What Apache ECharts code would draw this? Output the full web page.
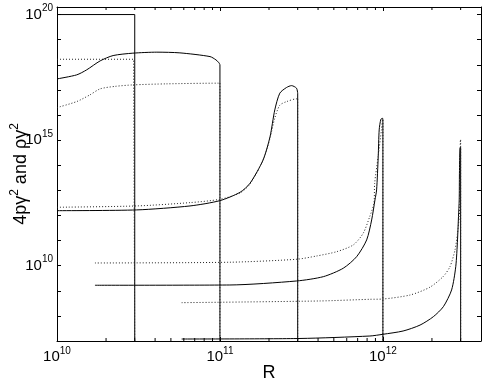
<!DOCTYPE html>
<html>
<head>
<meta charset="utf-8">
<script src="https://cdn.jsdelivr.net/npm/echarts@6/dist/echarts.min.js"></script>
<style>
  html, body { margin: 0; padding: 0; background: #fff; }
  #main { width: 485px; height: 385px; }
</style>
</head>
<body>
<div id="main"></div>
<script>
// axis range
const xMin = 1e10, xMax = 4e12
const yMin = 1e7, yMax = 2e20
// minor ticks on the R axis (2..9 per decade)
const minorX = [2e10, 3e10, 4e10, 5e10, 6e10, 7e10, 8e10, 9e10,
  2e11, 3e11, 4e11, 5e11, 6e11, 7e11, 8e11, 9e11, 2e12, 3e12]

// curves, [R, value]; last point of each is the drop to the bottom
const top1 = [[1e10, 1e20], [3e10, 1e20], [3e10, 1e7]]
const flatDot1 = [[1e10, 1.66e18], [2.95e10, 1.66e18], [3e10, 1e7]]
const solid1 = [[1e10, 2.74e17], [1.32e10, 3.96e17], [1.52e10, 6.27e17], [1.84e10, 1.43e18], [2.21e10, 2.33e18],
  [2.92e10, 2.9e18], [4.1e10, 3.18e18], [5.68e10, 2.98e18], [8.69e10, 2.12e18], [9.45e10, 1.57e18],
  [9.86e10, 1.2e18], [1e11, 1e18], [1e11, 1e7]]
const dot1 = [[1e10, 1.97e16], [1.32e10, 3.42e16], [1.59e10, 6.3e16], [1.84e10, 1.1e17], [2.27e10, 1.38e17],
  [2.92e10, 1.58e17], [4.7e10, 1.74e17], [9.7e10, 1.85e17], [1e11, 1.85e17], [1e11, 1e7]]
const solid2 = [[1e10, 1.55e12], [3.08e10, 1.66e12], [6.55e10, 2.39e12], [1e11, 3.89e12], [1.33e11, 8.4e12],
  [1.53e11, 1.92e13], [1.84e11, 1.62e14], [2.03e11, 1.38e15], [2.17e11, 1.59e16], [2.33e11, 7.4e16],
  [2.56e11, 1.24e17], [2.75e11, 1.48e17], [2.95e11, 1.17e17], [3e11, 7.4e16], [3e11, 1e7]]
const dot2 = [[1e10, 2.12e12], [3.08e10, 2.39e12], [6.55e10, 3.24e12], [1e11, 4.4e12], [1.33e11, 7.9e12],
  [1.53e11, 1.8e13], [1.84e11, 1.62e14], [2.03e11, 1.23e15], [2.17e11, 7.6e15], [2.33e11, 2.46e16],
  [2.56e11, 3.4e16], [2.95e11, 4.4e16], [3e11, 4.4e16], [3e11, 1e7]]
const solid3 = [[1.71e10, 1.66e9], [1.15e11, 1.7e9], [2.96e11, 2.46e9], [4.31e11, 3.65e9], [5.71e11, 7.9e9],
  [6.9e11, 2.28e10], [7.95e11, 1.06e11], [8.53e11, 6.6e11], [8.94e11, 4.15e12], [9.15e11, 1.04e13],
  [9.36e11, 2.19e14], [9.49e11, 2.56e15], [9.72e11, 6.8e15], [9.96e11, 7.4e15], [1e12, 5.5e15], [1e12, 1e7]]
const dot3 = [[1.71e10, 1.28e10], [1.15e11, 1.37e10], [2.96e11, 1.8e10], [3.92e11, 2.43e10], [5.2e11, 3.6e10],
  [6.58e11, 6.7e10], [7.57e11, 1.95e11], [8.3e11, 8.95e11], [8.81e11, 3.06e12], [8.9e11, 1.9e13],
  [9.35e11, 2.2e14], [9.8e11, 2.6e15], [9.96e11, 6.3e15], [1e12, 6.3e15], [1e12, 1e7]]
const solid4 = [[5.82e10, 1.2e7], [3.1e11, 1.26e7], [8.32e11, 1.58e7], [1e12, 1.85e7], [1.33e12, 2.5e7],
  [1.69e12, 4.3e7], [2.04e12, 9.3e7], [2.35e12, 2.33e8], [2.64e12, 1.08e9], [2.8e12, 9.1e9],
  [2.87e12, 1.06e11], [2.91e12, 8.95e11], [2.94e12, 4.15e12], [2.95e12, 4.8e13], [2.97e12, 4.75e14],
  [3e12, 5.2e14], [3e12, 1e7]]
const dot4 = [[5.82e10, 3.36e8], [4.1e11, 3.93e8], [8.32e11, 4.58e8], [1e12, 4.7e8], [1.47e12, 6.8e8],
  [1.94e12, 1.38e9], [2.34e12, 3.65e9], [2.58e12, 9.1e9], [2.77e12, 4.2e10], [2.87e12, 1.95e11],
  [2.94e12, 8.95e11], [2.97e12, 4.15e12], [2.98e12, 2.2e14], [2.99e12, 1.02e15], [3e12, 1.02e15], [3e12, 1e7]]

const solidCurves = [solid1, solid2, solid3, solid4]
const dottedCurves = [dot1, dot2, dot3, dot4]

const FONT = 'Liberation Sans, Arial, Helvetica, sans-serif'
const supRich = {
  b: { fontSize: 15, lineHeight: 22, fontFamily: FONT, color: '#000' },
  s: { fontSize: 10, lineHeight: 10, verticalAlign: 'top', fontFamily: FONT, color: '#000' }
}
function powLabel(v) {
  let e = Math.round(Math.log10(v))
  return '{b|10}{s|' + e + '}'
}

const chart = echarts.init(document.getElementById('main'), null, { renderer: 'canvas' })

let axisBase = {
  type: 'log',
  logBase: 10,
  axisLine: { show: true, onZero: false, lineStyle: { color: '#000', width: 1 } },
  axisTick: { show: true, inside: true, length: 4, lineStyle: { color: '#000' } },
  splitLine: { show: false },
  minorTick: { show: false },
  interval: 1
}

const solidStyle = { color: '#000', width: 1, type: 'solid' }
const dotStyle = { color: '#222', width: 1, type: [1, 2] }

function lineSeries(d, style, smooth) {
  return {
    type: 'line', data: d, showSymbol: false, symbol: 'none', silent: true,
    smooth: smooth, lineStyle: style
  }
}

let series = []
series.push(lineSeries(top1, solidStyle, false))
series.push(lineSeries(flatDot1, dotStyle, false))
solidCurves.forEach(d => {
  series.push(lineSeries(d.slice(0, -1), solidStyle, 0.25))
  series.push(lineSeries(d.slice(-2), solidStyle, false))
})
dottedCurves.forEach(d => {
  series.push(lineSeries(d.slice(0, -1), dotStyle, 0.25))
  series.push(lineSeries(d.slice(-2), dotStyle, false))
})
// minor ticks on bottom and top edges
series.push({
  type: 'custom',
  silent: true,
  clip: false,
  data: minorX.map(v => [v, yMin]),
  renderItem: function (params, api) {
    let p = api.coord([api.value(0), api.value(1)])
    let cs = params.coordSys
    let top = cs.y, bottom = cs.y + cs.height
    let st = { stroke: '#000', lineWidth: 1 }
    return {
      type: 'group',
      children: [
        { type: 'line', shape: { x1: p[0], y1: bottom, x2: p[0], y2: bottom - 3 }, style: st },
        { type: 'line', shape: { x1: p[0], y1: top, x2: p[0], y2: top + 3 }, style: st }
      ]
    }
  }
})

let option = {
  animation: false,
  backgroundColor: '#fff',
  grid: { left: 57, right: 4, top: 7, bottom: 44, containLabel: false, outerBoundsMode: 'none' },
  xAxis: [
    Object.assign({}, axisBase, {
      position: 'bottom', min: xMin, max: xMax,
      name: 'R', nameLocation: 'middle', nameGap: 23, nameMoveOverlap: false,
      nameTextStyle: { fontSize: 18, fontFamily: FONT, color: '#000' },
      axisLabel: { show: true, margin: 5, showMaxLabel: false, formatter: powLabel, rich: supRich }
    }),
    Object.assign({}, axisBase, {
      position: 'top', min: xMin, max: xMax,
      axisLabel: { show: false }
    })
  ],
  yAxis: [
    Object.assign({}, axisBase, {
      position: 'left', min: yMin, max: yMax,
      name: '{n|4pγ}{s|2}{n| and ργ}{s|2}', nameLocation: 'middle', nameGap: 24, nameMoveOverlap: false,
      nameTextStyle: {
        rich: {
          n: { fontSize: 18, lineHeight: 24, fontFamily: FONT, color: '#000' },
          s: { fontSize: 12, lineHeight: 12, verticalAlign: 'top', fontFamily: FONT, color: '#000' }
        }
      },
      axisLabel: {
        show: true, margin: 4,
        formatter: function (v) {
          let e = Math.round(Math.log10(v))
          return e % 5 === 0 ? powLabel(v) : ''
        },
        rich: supRich
      }
    }),
    Object.assign({}, axisBase, {
      position: 'right', min: yMin, max: yMax,
      axisLabel: { show: false }
    })
  ],
  series: series
}
chart.setOption(option)
</script>
</body>
</html>
